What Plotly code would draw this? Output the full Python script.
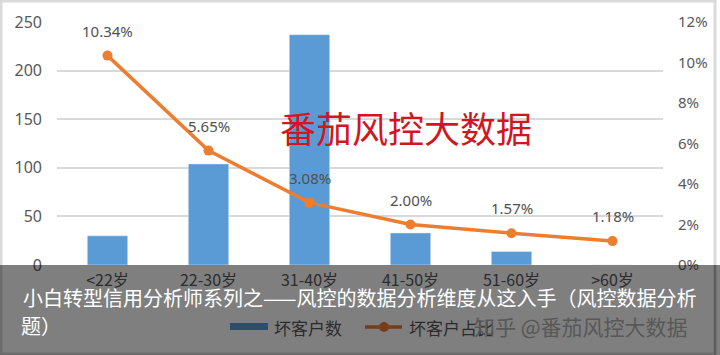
import plotly.graph_objects as go

categories = ["<22岁", "22-30岁", "31-40岁", "41-50岁", "51-60岁", ">60岁"]
bad_counts = [30, 104, 237, 33, 14, 0]
bad_ratio = [0.1034, 0.0565, 0.0308, 0.0200, 0.0157, 0.0118]
ratio_labels = ["10.34%", "5.65%", "3.08%", "2.00%", "1.57%", "1.18%"]
left_ticks = [0, 50, 100, 150, 200, 250]
right_ticks = [0, 0.02, 0.04, 0.06, 0.08, 0.10, 0.12]

W, H = 720, 355
ML, MR, MT, MB = 57, 57, 22, 90
PW, PH = W - ML - MR, H - MT - MB


def px(x):
    return (x - ML) / PW


def py(y):
    return (H - MB - y) / PH


BLUE = "#5B9BD5"
ORANGE = "#ED7D31"
CJK = "Noto Sans CJK SC"

fig = go.Figure()
fig.add_trace(go.Bar(x=categories, y=bad_counts, marker_color=BLUE, name="坏客户数",
                     showlegend=False))
fig.add_trace(go.Scatter(x=categories, y=bad_ratio, yaxis="y2", mode="lines+markers",
                         line=dict(color=ORANGE, width=3.5), marker=dict(size=10, color=ORANGE),
                         name="坏客户占比", showlegend=False))

annotations = []
for c, v, t in zip(categories, bad_ratio, ratio_labels):
    annotations.append(dict(x=c, y=v, xref="x", yref="y2", text=t, showarrow=False,
                            yshift=25, font=dict(family="Noto Sans", size=15, color="#505050")))

annotations.append(dict(x=px(406), y=py(127), xref="paper", yref="paper", text="番茄风控大数据",
                        showarrow=False, font=dict(family=CJK, size=36, color="#D2151E"),
                        xanchor="center", yanchor="middle"))

# title over overlay
annotations.append(dict(x=px(21), y=py(297), xref="paper", yref="paper",
                        text="小白转型信用分析师系列之——风控的数据分析维度从这入手（风控数据分析",
                        showarrow=False, xanchor="left", yanchor="middle",
                        font=dict(family=CJK, size=20, color="#FFFFFF")))
annotations.append(dict(x=px(19), y=py(325), xref="paper", yref="paper", text="题）",
                        showarrow=False, xanchor="left", yanchor="middle",
                        font=dict(family=CJK, size=20, color="#FFFFFF")))
# legend texts (darkened under overlay)
annotations.append(dict(x=px(272), y=py(327), xref="paper", yref="paper", text="坏客户数",
                        showarrow=False, xanchor="left", yanchor="middle",
                        font=dict(family=CJK, size=17, color="#2C2C2C")))
annotations.append(dict(x=px(407), y=py(327), xref="paper", yref="paper", text="坏客户占比",
                        showarrow=False, xanchor="left", yanchor="middle",
                        font=dict(family=CJK, size=17, color="#2C2C2C")))
annotations.append(dict(x=px(472), y=py(326), xref="paper", yref="paper", text="知乎 @番茄风控大数据",
                        showarrow=False, xanchor="left", yanchor="middle",
                        font=dict(family=CJK, size=21, color="#585858")))

shapes = [
    dict(type="rect", xref="paper", yref="paper", x0=px(1), x1=px(715), y0=py(1), y1=py(354),
         line=dict(color="#DADADA", width=3), fillcolor="rgba(0,0,0,0)", layer="below"),
    # legend swatches (drawn under overlay)
    dict(type="rect", xref="paper", yref="paper", x0=px(230), x1=px(268), y0=py(330), y1=py(323),
         fillcolor=BLUE, line=dict(width=0), layer="above"),
    dict(type="line", xref="paper", yref="paper", x0=px(365), x1=px(402), y0=py(327), y1=py(327),
         line=dict(color=ORANGE, width=3.5), layer="above"),
    dict(type="circle", xref="paper", yref="paper", x0=px(379), x1=px(389), y0=py(332), y1=py(322),
         fillcolor=ORANGE, line=dict(width=0), layer="above"),
    # dark overlay banner
    dict(type="rect", xref="paper", yref="paper", x0=px(0), x1=px(720), y0=py(265), y1=py(355),
         fillcolor="rgba(0,0,0,0.5)", line=dict(width=0), layer="above"),
    dict(type="line", xref="paper", yref="paper", x0=px(715), x1=px(715), y0=py(265), y1=py(355),
         line=dict(color="rgba(0,0,0,0.15)", width=2), layer="above"),
]

fig.update_layout(
    width=W, height=H,
    margin=dict(l=ML, r=MR, t=MT, b=MB),
    paper_bgcolor="white", plot_bgcolor="white",
    bargap=0.6,
    showlegend=False,
    xaxis=dict(type="category", range=[-0.5, 5.5], showgrid=False, showline=False, ticks="",
               ticklabelstandoff=4,
               tickfont=dict(family=CJK, size=16, color="#595959")),
    yaxis=dict(range=[0, 250], tickvals=left_ticks, showgrid=True, gridcolor="#D9D9D9",
               gridwidth=1.5, zeroline=False, showline=False, ticks="", ticklabelstandoff=14,
               tickfont=dict(family="Noto Sans", size=16, color="#595959")),
    yaxis2=dict(range=[0, 0.12], tickvals=right_ticks, tickformat=".0%", overlaying="y",
                side="right", showgrid=False, zeroline=False, showline=False, ticks="",
                ticklabelstandoff=14,
                tickfont=dict(family="Noto Sans", size=15, color="#595959")),
    annotations=annotations,
    shapes=shapes,
)

fig.write_html("out.html")
